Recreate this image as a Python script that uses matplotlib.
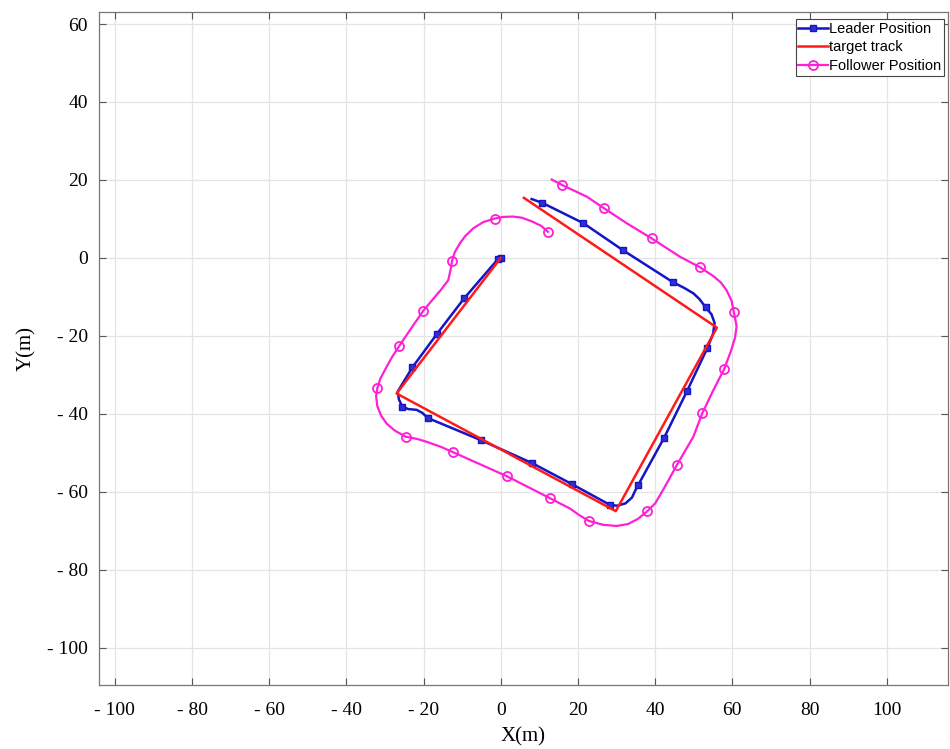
import matplotlib
matplotlib.use("Agg")
import matplotlib.pyplot as plt
from matplotlib.ticker import FuncFormatter

# ---- data ----
target_x = [0.0, -27.0, 29.8, 56.0, 6.0]
target_y = [0.0, -34.8, -65.0, -17.9, 15.4]

leader_x = [0.0, -0.8, -9.5, -16.6, -22.9, -26.7, -26.4, -25.5, -24.0, -21.8, -20.3, -18.9,
            -5.1, 8.2, 18.5, 28.3, 30.2, 32.3, 34.0, 34.8, 35.6, 42.3, 48.3, 53.5,
            55.0, 55.4, 54.6, 53.1, 51.5, 49.9, 47.5, 44.7, 31.6, 21.4, 10.8, 8.0]
leader_y = [0.0, -0.4, -10.4, -19.6, -28.1, -34.3, -36.3, -38.2, -38.8, -39.0, -39.8, -41.1,
            -46.8, -52.7, -58.1, -63.4, -63.6, -63.0, -61.5, -59.8, -58.3, -46.2, -34.1, -23.2,
            -19.5, -16.7, -14.5, -12.7, -10.6, -9.1, -7.7, -6.3, 2.0, 8.9, 14.1, 15.1]
leader_marked = [1, 1, 1, 1, 1, 0, 0, 1, 0, 0, 0, 1,
                 1, 1, 1, 1, 0, 0, 0, 0, 1, 1, 1, 1,
                 0, 0, 0, 1, 0, 0, 0, 1, 1, 1, 1, 0]

follower_x = [12.2, 10.5, 8.2, 5.5, 3.2, 0.5, -1.5, -4.5, -7.1, -9.2, -10.6, -11.9,
              -12.6, -13.0, -13.6, -15.5, -17.4, -20.1, -23.5, -26.3, -28.2, -29.6, -31.2, -32.0,
              -32.3, -32.0, -31.0, -29.6, -27.5, -24.6, -21.5, -19.2, -15.5, -12.3, 1.5, 12.8,
              15.3, 17.9, 20.3, 22.8, 26.5, 30.0, 33.0, 35.5, 38.0, 40.0, 41.5, 43.5,
              45.6, 49.9, 52.2, 55.1, 57.9, 59.6, 60.7, 61.1, 60.4, 59.8, 58.5, 57.0,
              55.1, 51.6, 46.4, 39.1, 32.6, 26.8, 22.3, 15.9, 13.2]
follower_y = [6.7, 8.2, 9.3, 10.3, 10.6, 10.5, 10.1, 9.2, 7.6, 5.6, 3.7, 1.5,
              -0.7, -3.0, -5.7, -8.2, -10.4, -13.6, -18.5, -22.6, -25.5, -28.0, -31.0, -33.5,
              -35.5, -38.0, -40.5, -42.5, -44.3, -45.9, -46.5, -47.2, -48.5, -49.9, -56.0, -61.7,
              -63.0, -64.3, -66.0, -67.5, -68.5, -68.8, -68.3, -67.0, -65.0, -63.0, -60.5, -57.0,
              -53.2, -45.9, -39.9, -33.9, -28.5, -24.0, -20.5, -17.5, -14.0, -11.0, -8.3, -6.3,
              -4.7, -2.4, 0.3, 5.0, 8.9, 12.7, 15.7, 18.7, 20.1]
follower_marked = [1, 0, 0, 0, 0, 0, 1, 0, 0, 0, 0, 0,
                   1, 0, 0, 0, 0, 1, 0, 1, 0, 0, 0, 1,
                   0, 0, 0, 0, 0, 1, 0, 0, 0, 1, 1, 1,
                   0, 0, 0, 1, 0, 0, 0, 0, 1, 0, 0, 0,
                   1, 0, 1, 0, 1, 0, 0, 0, 1, 0, 0, 0,
                   0, 1, 0, 1, 0, 1, 0, 1, 0]

x_ticks = [-100, -80, -60, -40, -20, 0, 20, 40, 60, 80, 100]
y_ticks = [60, 40, 20, 0, -20, -40, -60, -80, -100]

# ---- figure ----
fig = plt.figure(figsize=(9.5, 7.49), dpi=100)
ax = fig.add_axes([0.1042, 0.0855, 0.8938, 0.8985])

blue = "#1414c8"
red = "#ff1a1a"
mag = "#ff1fd6"

leader_every = [i for i, m in enumerate(leader_marked) if m]
follower_every = [i for i, m in enumerate(follower_marked) if m]

ax.plot(leader_x, leader_y, color=blue, lw=1.8, marker="s", markersize=5,
        markerfacecolor="#3030d0", markeredgecolor=blue, markevery=leader_every,
        label="Leader Position", zorder=3, solid_joinstyle="round")
ax.plot(target_x, target_y, color=red, lw=1.8, label="target track", zorder=4)
ax.plot(follower_x, follower_y, color=mag, lw=1.6, marker="o", markersize=6.5,
        markerfacecolor="none", markeredgecolor=mag, markeredgewidth=1.3,
        markevery=follower_every, label="Follower Position", zorder=3,
        solid_joinstyle="round")

ax.set_xlim(-104.1, 115.9)
ax.set_ylim(-109.6, 63.1)
ax.set_xticks(x_ticks)
ax.set_yticks(y_ticks)

def fmt(v, pos):
    v = int(round(v))
    return f"- {abs(v)}" if v < 0 else f"{v}"

ax.xaxis.set_major_formatter(FuncFormatter(fmt))
ax.yaxis.set_major_formatter(FuncFormatter(fmt))

serif = ["Liberation Serif", "DejaVu Serif"]
for lab in ax.get_xticklabels() + ax.get_yticklabels():
    lab.set_fontfamily(serif)
    lab.set_fontsize(14)

ax.tick_params(axis="both", direction="in", length=5, width=0.8, color="#555555",
               top=True, right=True)
ax.tick_params(axis="x", pad=12)
ax.tick_params(axis="y", pad=8)

ax.grid(True, color="#e4e4e4", lw=0.9)
ax.set_axisbelow(True)
for s in ax.spines.values():
    s.set_color("#777777")
    s.set_linewidth(0.9)

ax.set_xlabel("X(m)", fontfamily=serif, fontsize=15, labelpad=6)
ax.set_ylabel("Y(m)", fontfamily=serif, fontsize=15, labelpad=8)

leg = ax.legend(loc="upper right", bbox_to_anchor=(1 - 4 / 849, 1 - 7 / 673),
                borderaxespad=0,
                prop={"family": ["Liberation Sans", "DejaVu Sans"], "size": 10.5},
                fancybox=False, framealpha=1, edgecolor="#444444", borderpad=0.2,
                handlelength=2.0, handletextpad=0.1, labelspacing=0.3)
leg.get_frame().set_linewidth(0.8)

fig.savefig("out.png", dpi=100)
